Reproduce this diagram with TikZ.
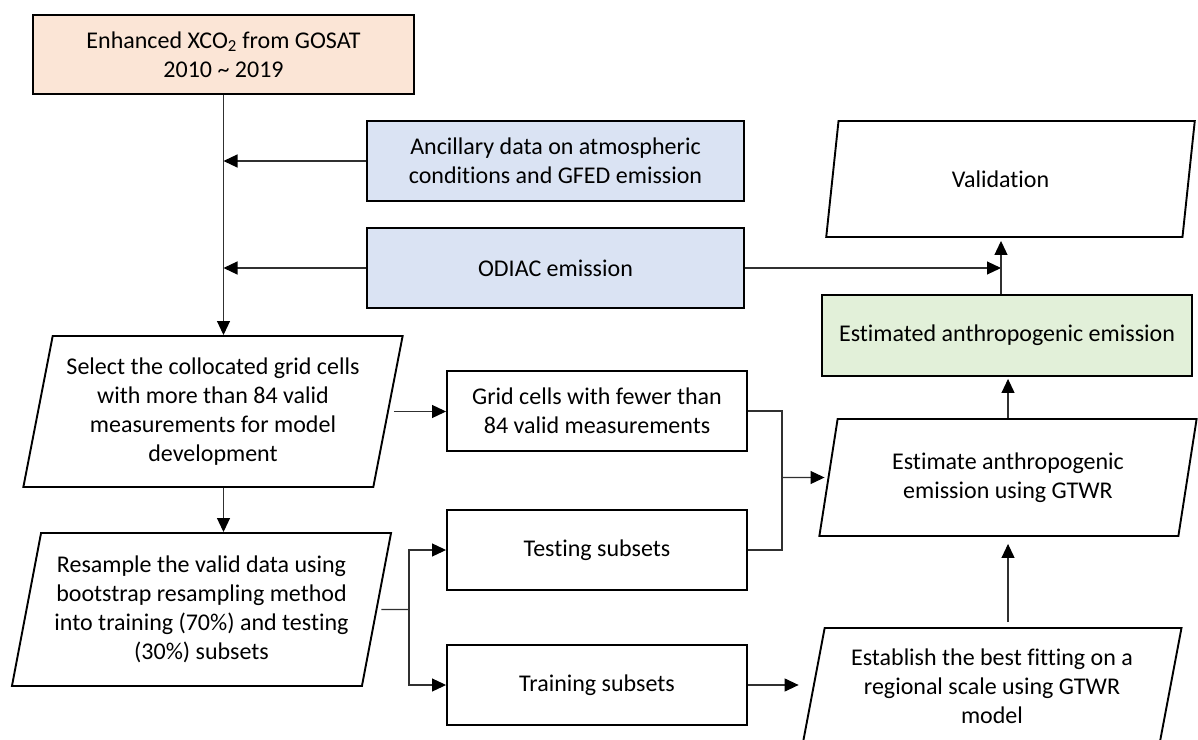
\documentclass[tikz,border=0pt]{standalone}
\usepackage{fontspec}
\setmainfont{Carlito}[Ligatures=NoCommon]
\usetikzlibrary{shapes.geometric,arrows.meta,calc}
\definecolor{peachf}{HTML}{FBE5D6}
\definecolor{bluef}{HTML}{DAE3F3}
\definecolor{greenf}{HTML}{E2F0D9}
\definecolor{connc}{HTML}{303030}
\begin{document}
\begin{tikzpicture}[x=1bp,y=-1bp,
  txt/.style={align=center, inner sep=0pt, font=\fontsize{24bp}{29bp}\selectfont},
  rbox/.style={txt, draw=black, line width=1.9bp},
  para/.style={txt, draw=black, line width=1.9bp, trapezium, trapezium left angle=76,
    trapezium right angle=104, trapezium stretches=true},
  conn/.style={line width=1.1bp, draw=connc},
  arr/.style={conn, -{Triangle[length=14bp,width=13bp,color=black]}}]
\useasboundingbox (0,0) rectangle (1198,740);
\clip (0,0) rectangle (1198,740);
\fill[white] (0,0) rectangle (1198,740);

\node[rbox, fill=peachf, minimum width=381bp, minimum height=79bp] (src) at (223.5,54.5)
  {Enhanced XCO\textsubscript{2} from GOSAT\\2010 \textasciitilde{} 2019};
\node[rbox, fill=bluef, minimum width=377bp, minimum height=80bp] (anc) at (555.5,161)
  {Ancillary data on atmospheric\\conditions and GFED emission};
\node[rbox, fill=bluef, minimum width=377bp, minimum height=80bp] (odiac) at (555.5,268)
  {ODIAC emission};
\node[para, minimum width=369bp, minimum height=116bp] (val) at (1010.5,179) {Validation\hspace*{20bp}};
\node[rbox, fill=greenf, minimum width=370bp, minimum height=81bp] (est2) at (1007,335.5)
  {Estimated anthropogenic emission};
\node[para, minimum width=380bp, minimum height=151bp] (sel) at (213,411.5)
  {Select the collocated grid cells\\with more than 84 valid\\measurements for model\\development};
\node[rbox, minimum width=300bp, minimum height=80bp] (grid) at (597,411)
  {Grid cells with fewer than\\84 valid measurements};
\node[para, minimum width=378bp, minimum height=117bp] (gtwr) at (1008,477.5)
  {Estimate anthropogenic\\emission using GTWR};
\node[para, minimum width=381bp, minimum height=153bp] (res) at (201.5,609.5)
  {Resample the valid data using\\bootstrap resampling method\\into training (70\%) and testing\\(30\%) subsets};
\node[rbox, minimum width=300bp, minimum height=80bp] (test) at (597,550) {Testing subsets};
\node[rbox, minimum width=300bp, minimum height=80bp] (train) at (597,685) {Training subsets};
\node[para, minimum width=380bp, minimum height=117bp] (fit) at (992,686.5)
  {Establish the best fitting on a\\regional scale using GTWR\\model};

\coordinate (vj) at (1001,268);
\coordinate (rj) at (409,609.5);
\coordinate (gj) at (782,477.5);

\draw[arr] (src.south) -- (src.south |- sel.north);
\draw[arr] (anc.west) -- (anc.west -| src.south);
\draw[arr] (odiac.west) -- (odiac.west -| src.south);
\draw[arr] (odiac.east) -- (vj);
\draw[arr, shorten >=3bp] (vj |- est2.north) -- (vj |- val.south);
\draw[arr, shorten >=2bp] (gtwr.north) -- (gtwr.north |- est2.south);
\draw[arr, shorten <=5bp, shorten >=7bp] (gtwr.south |- fit.north) -- (gtwr.south);
\draw[arr, shorten <=5bp] (sel.east) -- (sel.east -| grid.west);
\draw[arr] (src.south |- sel.south) -- (src.south |- res.north);
\draw[conn, shorten <=4bp] (res.east) -- (rj);
\draw[arr] (rj) |- (test.west);
\draw[arr] (rj) |- (train.west);
\draw[conn] (grid.east) -| (gj);
\draw[conn] (test.east) -| (gj);
\draw[arr, shorten >=3bp] (gj) -- (gtwr.west);
\draw[arr, shorten >=14bp] (train.east) -- (train.east -| fit.west);
\end{tikzpicture}
\end{document}
